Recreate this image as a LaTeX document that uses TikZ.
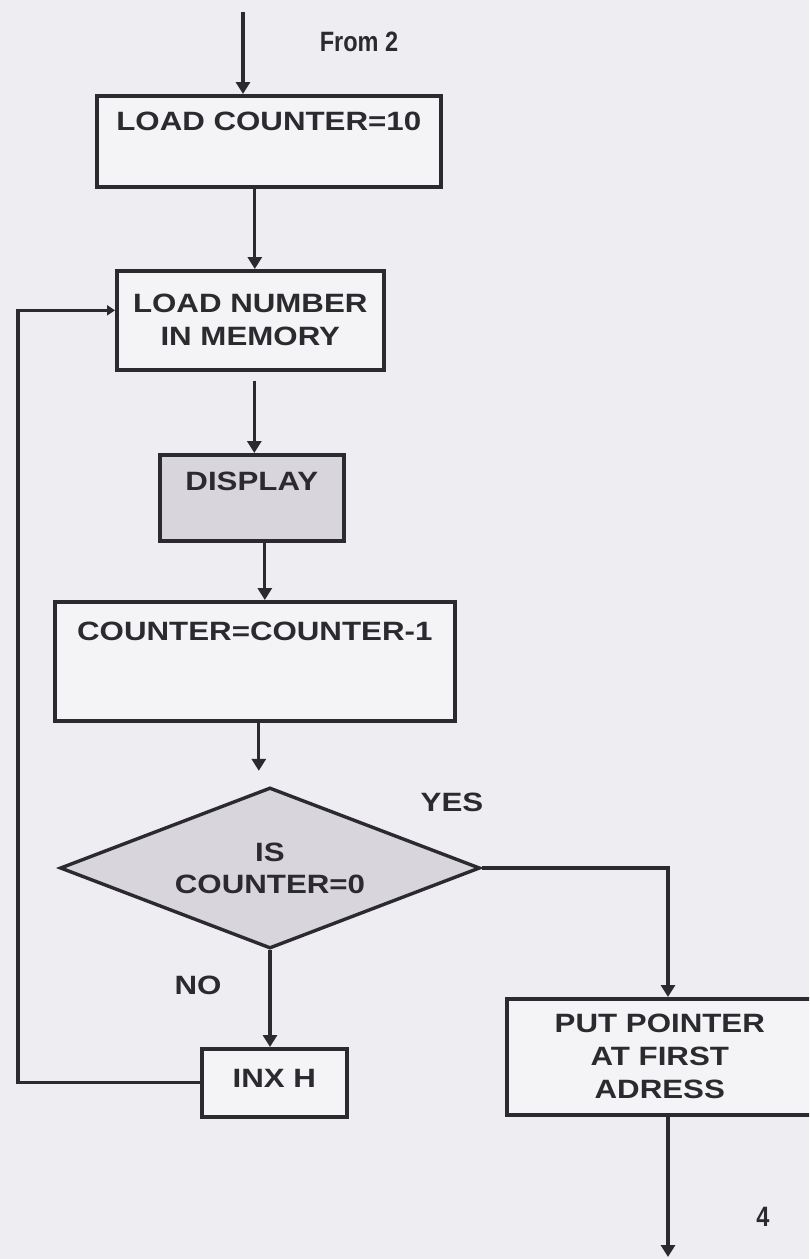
\documentclass[tikz,border=0pt]{standalone}
\usepackage{fontspec}
\newfontfamily\boxfont[FakeStretch=1.18]{Liberation Sans}
\newfontfamily\narrowfont[FakeStretch=0.84]{Liberation Sans}
\usetikzlibrary{arrows.meta, positioning, shapes.geometric}
\definecolor{paper}{HTML}{EEEDF2}
\definecolor{boxfill}{HTML}{F4F3F6}
\definecolor{mottle}{HTML}{D8D5DC}
\definecolor{ink}{HTML}{2B2B2F}
\tikzset{
  box/.style={
    rectangle,
    draw=ink,
    fill=boxfill,
    line width=3.6pt,
    inner sep=0pt,
    anchor=north west,
    align=center,
    text=ink,
    font=\boxfont\bfseries\fontsize{26.5}{33}\selectfont
  },
  decision/.style={
    diamond,
    draw=ink,
    fill=mottle,
    line width=3.4pt,
    aspect=2.6,
    inner sep=0pt,
    minimum width=420pt,
    minimum height=161pt,
    align=center,
    text=ink,
    font=\boxfont\bfseries\fontsize{26.5}{32}\selectfont
  },
  tag/.style={
    text=ink,
    font=\boxfont\bfseries\fontsize{26.5}{30}\selectfont
  },
  pagetag/.style={
    text=ink,
    font=\narrowfont\bfseries\fontsize{28}{30}\selectfont
  },
  arrow/.style={
    -{Triangle[length=12pt, width=14pt]},
    line width=3.2pt,
    draw=ink
  },
  backarrow/.style={
    -{Triangle[length=8pt, width=10pt]},
    line width=3.2pt,
    draw=ink
  }
}

\begin{document}
\begin{tikzpicture}[x=1pt, y=-1pt]
    \clip (0,0) rectangle (809,1259);
    \fill[paper] (0,0) rectangle (809,1259);

    \node[box, minimum width=344pt, text height=35pt, text depth=56pt] (load) at (95,94) {LOAD COUNTER=10};
    \node[box, minimum width=267pt, minimum height=99pt] (mem) at (115,269) {LOAD NUMBER\\IN MEMORY};
    \node[box, fill=mottle, minimum width=184pt, text height=36pt, text depth=50pt] (disp) at (158,453) {DISPLAY};
    \node[box, minimum width=400pt, text height=39pt, text depth=80pt] (cnt) at (53,600) {COUNTER=COUNTER-1};
    \node[decision] (dec) at (270,868) {IS\\COUNTER=0};
    \node[box, minimum width=145pt, text height=39pt, text depth=29pt] (inx) at (200,1047) {INX H};
    \node[box, minimum width=306pt, minimum height=116pt] (put) at (505,997) {PUT POINTER\\AT FIRST\\ADRESS};

    \node[pagetag] (from) at (359,42) {From 2};
    \node[tag] (yes) at (452,802) {YES};
    \node[tag] (no) at (198,985) {NO};
    \node[pagetag] (page) at (763,1217) {4};

    \coordinate (entry) at (243,12);
    \coordinate (exit) at (668,1257);
    \coordinate (loop) at (18,0);
    \coordinate (memin) at ([yshift=10pt]mem.west);

    \draw[arrow] (entry) -- (entry |- load.north);
    \draw[arrow] ([xshift=-14pt]load.south) -- ([xshift=-14pt]load.south |- mem.north);
    \draw[arrow, shorten <=9pt] ([xshift=4pt]mem.south) -- ([xshift=4pt]mem.south |- disp.north);
    \draw[arrow] ([xshift=13pt]disp.south) -- ([xshift=13pt]disp.south |- cnt.north);
    \draw[arrow, shorten >=15pt] ([xshift=4pt]cnt.south) -- ([xshift=4pt]cnt.south |- dec.north);
    \draw[arrow] (dec.south) -- (dec.south |- inx.north);
    \draw[arrow] (dec.east) -| (exit |- put.north);
    \draw[arrow] (exit |- put.south) -- (exit);
    \draw[backarrow] (inx.west) -| (memin -| loop) -- (memin);
\end{tikzpicture}
\end{document}
